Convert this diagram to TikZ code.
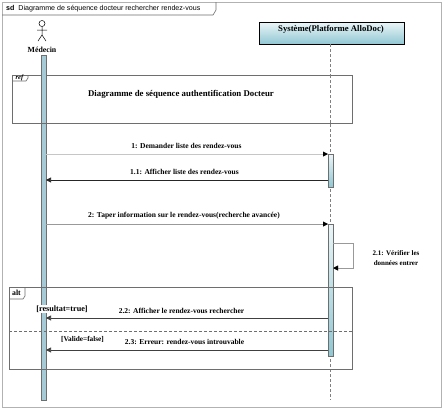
\documentclass[tikz,border=0pt]{standalone}
\usepackage{fontspec}
\setmainfont{Liberation Serif}
\newfontfamily\sansf{Liberation Sans}
\usetikzlibrary{arrows.meta}
\definecolor{framegray}{HTML}{6E6E6E}
\definecolor{barfill}{HTML}{A6CAD6}
\definecolor{bartop}{HTML}{EAF5F7}
\definecolor{barbot}{HTML}{8FC7D3}
\begin{document}
\begin{tikzpicture}[x=1pt,y=-1pt,
  lbl/.style={font=\fontsize{7.5}{8.5}\selectfont\bfseries, inner sep=0pt},
  msg/.style={-{Triangle[length=5pt,width=5pt]}, line width=0.6pt},
  frm/.style={draw=framegray, line width=0.6pt},
  actbar/.style={draw=framegray, line width=0.5pt, top color=bartop, bottom color=barbot, shading angle=0}
]
\useasboundingbox (0,0) rectangle (443,410);
\fill[white] (0,0) rectangle (443,410);
% outer frame
\draw[gray!60, line width=0.6pt] (2,2) rectangle (441,407);
\draw[framegray, line width=0.6pt] (2,15) -- (213,15) -- (216,10) -- (216,2);
\node[anchor=west, inner sep=0pt, font=\sansf\fontsize{7.1}{8}\selectfont] (sdt) at (6,8.5) {\textbf{sd}\ \ Diagramme de séquence docteur rechercher rendez-vous};

% actor
\draw[line width=0.5pt] (42,23.5) circle (3);
\draw[line width=0.5pt] (42,26.5) -- (42,35) (37,30) -- (47,30) (38,41) -- (42,35) -- (46,41);
\node[lbl, font=\fontsize{7.8}{9}\selectfont\bfseries] (med) at (42,49.5) {Médecin};
% actor activation bar
\node[draw=framegray, fill=barfill, line width=0.5pt, minimum width=5pt, minimum height=345pt, inner sep=0pt, anchor=north] (medbar) at (43.5,55) {};

% system
\node[draw=black, line width=0.6pt, top color=bartop, bottom color=barbot, minimum width=145pt, minimum height=22pt, inner sep=0pt, anchor=north west] (sys) at (259,22) {};
\node[lbl, font=\fontsize{8.7}{9}\selectfont\bfseries] (systxt) at (331,29.5) {Système(Platforme AlloDoc)};
\coordinate (sysll) at (330,44);
\coordinate (sysend) at (330,400);
\draw[gray, dashed, dash pattern=on 3pt off 2pt, line width=0.5pt] (sysll) -- (sysend);

% ref frame
\draw[frm, fill=white] (12,75) rectangle (352,123);
\draw[frm] (12,81) -- (26,81) -- (28,78) -- (28,75);
\node[lbl, font=\fontsize{6.5}{7}\selectfont\bfseries\itshape] (reft) at (19.5,78) {ref};
\node[lbl, font=\fontsize{8.8}{10}\selectfont\bfseries] (refx) at (181,94) {Diagramme de séquence authentification Docteur};
\fill[barfill] (41.25,75.3) rectangle (45.75,122.7);
\draw[framegray, line width=0.5pt] (41,75.3) -- (41,122.7) (46,75.3) -- (46,122.7);
\draw[gray, dashed, dash pattern=on 3pt off 2pt, line width=0.5pt] (330,75.3) -- (330,122.7);

% system activation bars
\node[actbar, minimum width=5pt, minimum height=33pt, inner sep=0pt, anchor=north] (b1) at (330.5,154) {};
\node[actbar, minimum width=5pt, minimum height=132pt, inner sep=0pt, anchor=north] (b2) at (330.5,224) {};

% message 1
\coordinate (m1a) at (46,154); \coordinate (m1b) at (328,154);
\draw[msg, draw=gray!45] (m1a) -- (m1b);
\fill (m1b) -- ++(-5,-2.5) -- ++(0,5) -- cycle;
\node[lbl] (l1) at (186.5,146) {1: Demander liste des rendez-vous};
% message 1.1
\coordinate (m11a) at (328,180); \coordinate (m11b) at (46,180);
\draw[msg, draw=black!85] (m11a) -- (m11b);
\node[lbl] (l11) at (184.5,172) {1.1: Afficher liste des rendez-vous};
% message 2
\coordinate (m2a) at (46,224); \coordinate (m2b) at (328,224);
\draw[msg, draw=gray!80] (m2a) -- (m2b);
\fill (m2b) -- ++(-5,-2.5) -- ++(0,5) -- cycle;
\node[lbl] (l2) at (184,216) {2: Taper information sur le rendez-vous(recherche avancée)};
% self message 2.1
\coordinate (s1) at (333,243); \coordinate (s2) at (353,243); \coordinate (s3) at (353,268); \coordinate (s4) at (333,268);
\draw[msg, draw=gray!80] (s1) -- (s2) -- (s3) -- (s4);
\fill (s4) -- ++(5,-2.5) -- ++(0,5) -- cycle;
\node[lbl, align=center, font=\fontsize{7}{10}\selectfont\bfseries] (l21) at (396,258) {2.1: Vérifier les\\données entrer};

% alt frame
\draw[frm] (9,287) rectangle (352,369);
\draw[frm] (9,299) -- (23,299) -- (25,296) -- (25,287);
\node[lbl, font=\fontsize{7.8}{8}\selectfont\bfseries] (altt) at (16.5,293) {alt};
\draw[framegray, dashed, dash pattern=on 3pt off 2pt, line width=0.6pt] (9,331) -- (352,331);
\node[lbl, fill=white, inner sep=0.5pt, font=\fontsize{8.2}{9}\selectfont\bfseries] (g1) at (62,309) {[resultat=true]};
\node[lbl, font=\fontsize{7.3}{8}\selectfont\bfseries] (g2) at (82.5,339) {[Valide=false]};
% message 2.2
\coordinate (m22a) at (328,318); \coordinate (m22b) at (46,318);
\draw[msg, draw=black!75] (m22a) -- (m22b);
\node[lbl] (l22) at (181.5,311) {2.2: Afficher le rendez-vous rechercher};
% message 2.3
\coordinate (m23a) at (328,350); \coordinate (m23b) at (46,350);
\draw[msg, draw=black!75] (m23a) -- (m23b);
\node[lbl] (l23) at (184.5,342) {2.3: Erreur: rendez-vous introuvable};
\end{tikzpicture}
\end{document}
